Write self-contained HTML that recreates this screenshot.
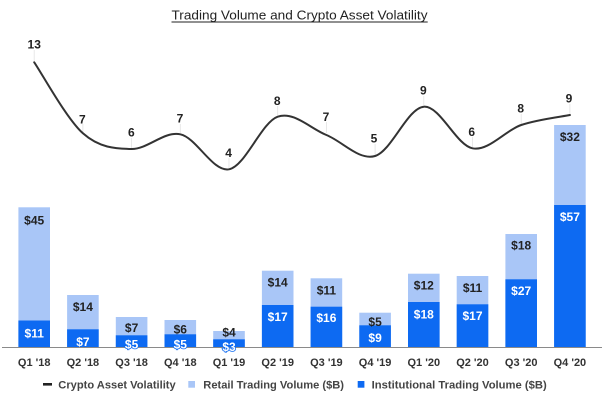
<!DOCTYPE html>
<html>
<head>
<meta charset="utf-8">
<style>
  html, body { margin: 0; padding: 0; background: #fff; }
  svg { display: block; }
  text { font-family: "Liberation Sans", Arial, sans-serif; }
</style>
</head>
<body>
<svg width="616" height="406" viewBox="0 0 616 406" xmlns="http://www.w3.org/2000/svg">
  <rect x="0" y="0" width="616" height="406" fill="#ffffff"/>

  <!-- Title -->
  <text x="171.5" y="19.3" font-size="13" fill="#222" textLength="256" lengthAdjust="spacingAndGlyphs">Trading Volume and Crypto Asset Volatility</text>
  <line x1="171.5" y1="22" x2="427.7" y2="22" stroke="#222" stroke-width="0.9"/>

  <!-- Bars: retail (light) full stack, institutional (dark) -->
  <g fill="#a9c6f7">
    <rect x="18.4" y="207.3" width="31.6" height="140.2"/>
    <rect x="67.1" y="295" width="31.6" height="52.5"/>
    <rect x="115.8" y="317" width="31.6" height="30.5"/>
    <rect x="164.5" y="320" width="31.6" height="27.5"/>
    <rect x="213.2" y="331" width="31.6" height="16.5"/>
    <rect x="261.9" y="270.7" width="31.6" height="76.8"/>
    <rect x="310.6" y="278.3" width="31.6" height="69.2"/>
    <rect x="359.3" y="312.7" width="31.6" height="34.8"/>
    <rect x="408.0" y="273.7" width="31.6" height="73.8"/>
    <rect x="456.7" y="276" width="31.6" height="71.5"/>
    <rect x="505.4" y="234" width="31.6" height="113.5"/>
    <rect x="554.1" y="125" width="31.6" height="222.5"/>
  </g>
  <g fill="#0d6af2">
    <rect x="18.4" y="320.5" width="31.6" height="27"/>
    <rect x="67.1" y="329.3" width="31.6" height="18.2"/>
    <rect x="115.8" y="335.3" width="31.6" height="12.2"/>
    <rect x="164.5" y="334.3" width="31.6" height="13.2"/>
    <rect x="213.2" y="339.3" width="31.6" height="8.2"/>
    <rect x="261.9" y="305" width="31.6" height="42.5"/>
    <rect x="310.6" y="306.7" width="31.6" height="40.8"/>
    <rect x="359.3" y="325.3" width="31.6" height="22.2"/>
    <rect x="408.0" y="302" width="31.6" height="45.5"/>
    <rect x="456.7" y="304.3" width="31.6" height="43.2"/>
    <rect x="505.4" y="279.3" width="31.6" height="68.2"/>
    <rect x="554.1" y="205" width="31.6" height="142.5"/>
  </g>

  <!-- Axis line -->
  <line x1="2" y1="347.5" x2="602" y2="347.5" stroke="#8a8a8a" stroke-width="1"/>

  <!-- Retail labels -->
  <g font-size="12" font-weight="bold" fill="#222" text-anchor="middle">
    <text x="34.2" y="224.3">$45</text>
    <text x="82.9" y="311">$14</text>
    <text x="131.6" y="332">$7</text>
    <text x="180.3" y="333.6">$6</text>
    <text x="229" y="336.6">$4</text>
    <text x="277.7" y="286.3">$14</text>
    <text x="326.4" y="294.3">$11</text>
    <text x="375.1" y="326">$5</text>
    <text x="423.8" y="289.3">$12</text>
    <text x="472.5" y="292">$11</text>
    <text x="521.2" y="249.3">$18</text>
    <text x="569.9" y="141">$32</text>
  </g>

  <!-- Institutional labels -->
  <g font-size="12" font-weight="bold" fill="#ffffff" text-anchor="middle">
    <text x="34.2" y="337.6">$11</text>
    <text x="82.9" y="346">$7</text>
    <text x="131.6" y="348.3" stroke="#0d6af2" stroke-width="1.6" paint-order="stroke">$5</text>
    <text x="180.3" y="348.3" stroke="#0d6af2" stroke-width="1.6" paint-order="stroke">$5</text>
    <text x="229" y="351" stroke="#0d6af2" stroke-width="1.6" paint-order="stroke">$3</text>
    <text x="277.7" y="321">$17</text>
    <text x="326.4" y="322">$16</text>
    <text x="375.1" y="342">$9</text>
    <text x="423.8" y="318.3">$18</text>
    <text x="472.5" y="320">$17</text>
    <text x="521.2" y="295">$27</text>
    <text x="569.9" y="221">$57</text>
  </g>

  <!-- Leader lines (faint) -->
  <g stroke="#e2e2e2" stroke-width="0.8">
    <line x1="34.2" y1="50" x2="34.2" y2="61"/>
    <line x1="82.9" y1="124" x2="82.9" y2="132"/>
    <line x1="131.6" y1="138" x2="131.6" y2="148"/>
    <line x1="180.3" y1="124" x2="180.3" y2="133"/>
    <line x1="229" y1="158" x2="229" y2="168"/>
    <line x1="277.7" y1="106" x2="277.7" y2="115"/>
    <line x1="326.4" y1="122" x2="326.4" y2="133"/>
    <line x1="375.1" y1="144" x2="375.1" y2="155"/>
    <line x1="423.8" y1="96" x2="423.8" y2="105"/>
    <line x1="472.5" y1="137" x2="472.5" y2="147"/>
    <line x1="521.2" y1="114" x2="521.2" y2="124"/>
    <line x1="569.9" y1="104" x2="569.9" y2="114"/>
  </g>

  <!-- Volatility line -->
  <path fill="none" stroke="#333" stroke-width="2" stroke-linecap="round" stroke-linejoin="round"
    d="M34.2,62.3
       C42.32,74.13 66.67,118.85 82.9,133.3
       C99.13,147.75 115.37,148.83 131.6,149
       C147.83,149.17 164.07,130.92 180.3,134.3
       C196.53,137.68 212.77,172.23 229,169.3
       C245.23,166.37 261.47,122.42 277.7,116.7
       C293.93,110.98 310.17,128.45 326.4,135
       C342.63,141.55 358.87,160.72 375.1,156
       C391.33,151.28 407.57,107.98 423.8,106.7
       C440.03,105.42 456.27,145.25 472.5,148.3
       C488.73,151.35 504.97,130.55 521.2,125
       C537.43,119.45 561.78,116.67 569.9,115"/>

  <!-- Volatility labels -->
  <g font-size="12" font-weight="bold" fill="#222" text-anchor="middle">
    <text x="34.2" y="48.3">13</text>
    <text x="82.4" y="123.3">7</text>
    <text x="131.4" y="136.6">6</text>
    <text x="180" y="122.6">7</text>
    <text x="228.6" y="157">4</text>
    <text x="277.2" y="105">8</text>
    <text x="326" y="121">7</text>
    <text x="374" y="142.6">5</text>
    <text x="423.3" y="94.3">9</text>
    <text x="471.7" y="136">6</text>
    <text x="520.7" y="112.6">8</text>
    <text x="569" y="102.6">9</text>
  </g>

  <!-- X axis labels -->
  <g font-size="11" font-weight="bold" fill="#333" text-anchor="middle">
    <text x="34.2" y="365.8">Q1 '18</text>
    <text x="82.9" y="365.8">Q2 '18</text>
    <text x="131.6" y="365.8">Q3 '18</text>
    <text x="180.3" y="365.8">Q4 '18</text>
    <text x="229" y="365.8">Q1 '19</text>
    <text x="277.7" y="365.8">Q2 '19</text>
    <text x="326.4" y="365.8">Q3 '19</text>
    <text x="375.1" y="365.8">Q4 '19</text>
    <text x="423.8" y="365.8">Q1 '20</text>
    <text x="472.5" y="365.8">Q2 '20</text>
    <text x="521.2" y="365.8">Q3 '20</text>
    <text x="569.9" y="365.8">Q4 '20</text>
  </g>

  <!-- Legend -->
  <rect x="43" y="383" width="9" height="2.6" fill="#222"/>
  <text x="58.3" y="388.3" font-size="11" font-weight="bold" fill="#444" textLength="117.4" lengthAdjust="spacingAndGlyphs">Crypto Asset Volatility</text>
  <rect x="188.3" y="381" width="6.7" height="6.7" fill="#a9c6f7"/>
  <text x="203.3" y="388.3" font-size="11" font-weight="bold" fill="#444" textLength="140.7" lengthAdjust="spacingAndGlyphs">Retail Trading Volume ($B)</text>
  <rect x="357.7" y="381" width="6.7" height="6.7" fill="#0d6af2"/>
  <text x="371.7" y="388.3" font-size="11" font-weight="bold" fill="#444" textLength="175" lengthAdjust="spacingAndGlyphs">Institutional Trading Volume ($B)</text>
</svg>
</body>
</html>
